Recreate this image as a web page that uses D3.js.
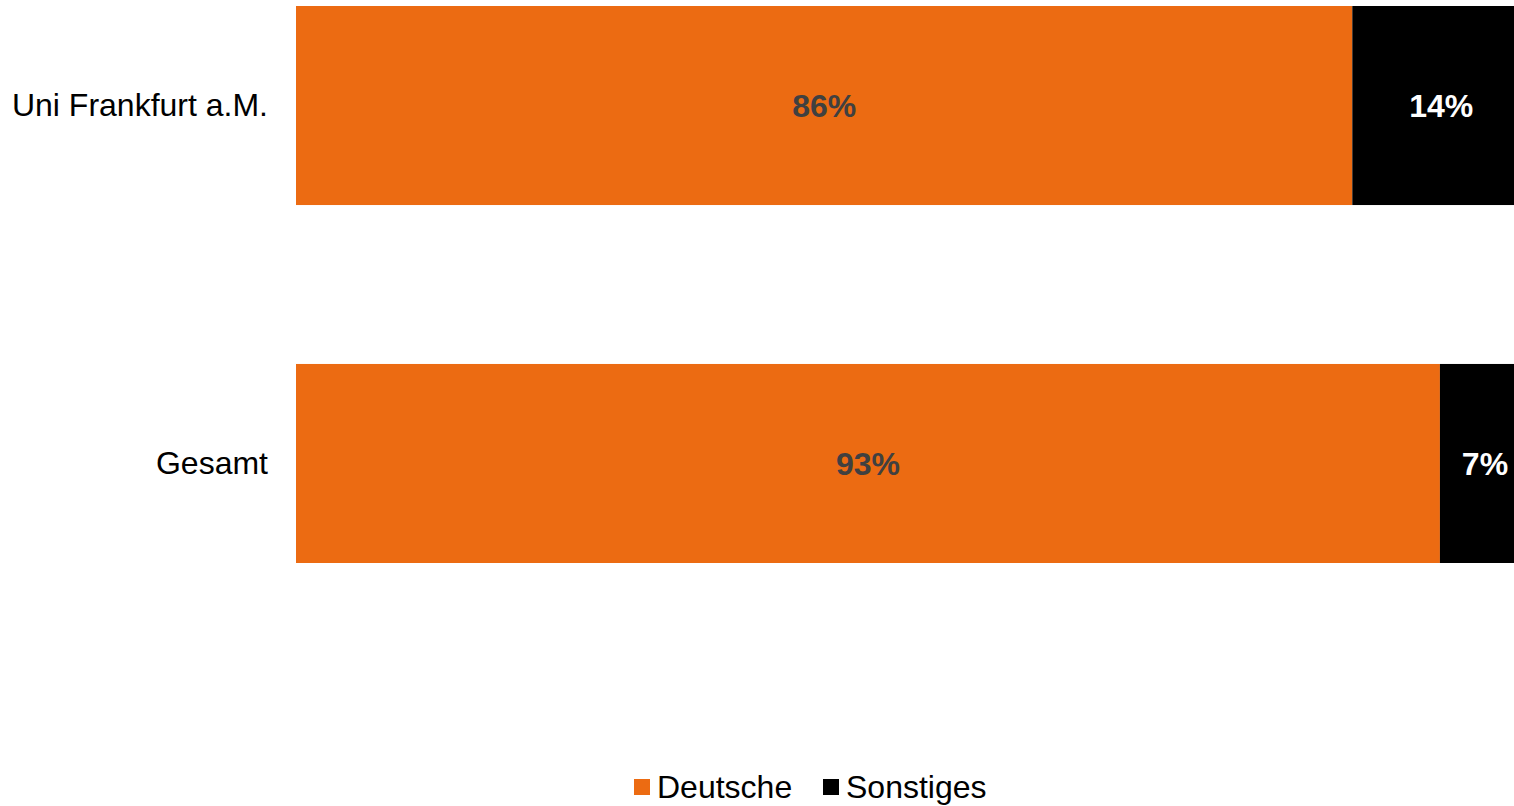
<!DOCTYPE html>
<html>
<head>
<meta charset="utf-8">
<script src="https://cdn.jsdelivr.net/npm/d3@7"></script>
<style>
  html, body { margin: 0; padding: 0; background: #fff; overflow: hidden; }
  svg { display: block; font-family: "Liberation Sans", Arial, sans-serif; }
</style>
</head>
<body>
<div id="chart"></div>
<script>
// DATA
const categories = ["Uni Frankfurt a.M.", "Gesamt"];
const seriesNames = ["Deutsche", "Sonstiges"];
const deutsche = [85.6, 92.7];
const sonstiges = [14.4, 7.3];
const colors = ["#EC6B12", "#000000"];

const W = 1514, H = 806;

const svg = d3.select("#chart").append("svg")
    .attr("width", W).attr("height", H);

// plot area runs slightly past the right edge of the window
const x = d3.scaleLinear().domain([0, 100]).range([296, 1530]);
const y = d3.scaleBand().domain(categories)
    .range([6, 563]).paddingInner(0.444).paddingOuter(0);

const fmt = d => d3.format(".0f")(d) + "%";

// stack the two series
const rows = categories.map((c, i) => ({ cat: c, Deutsche: deutsche[i], Sonstiges: sonstiges[i] }));
const stacked = d3.stack().keys(seriesNames)(rows);
const labelColors = ["#404040", "#ffffff"];

const layers = svg.selectAll(".layer")
    .data(stacked)
    .enter().append("g")
    .attr("class", "layer")
    .attr("fill", (d, i) => colors[i]);

layers.selectAll("rect")
    .data(d => d)
    .enter().append("rect")
    .attr("x", d => x(d[0]))
    .attr("y", d => y(d.data.cat))
    .attr("width", d => x(d[1]) - x(d[0]))
    .attr("height", y.bandwidth());

// value labels
stacked.forEach((layer, li) => {
    svg.selectAll(".lbl" + li)
        .data(layer)
        .enter().append("text")
        .attr("class", "lbl" + li)
        .attr("x", d => (x(d[0]) + x(d[1])) / 2)
        .attr("y", d => y(d.data.cat) + y.bandwidth() / 2)
        .attr("dy", "0.35em")
        .attr("text-anchor", "middle")
        .attr("font-size", "32px")
        .attr("font-weight", "bold")
        .attr("fill", labelColors[li])
        .text(d => fmt(d[1] - d[0]));
});

// category labels (axis without lines)
const yAxis = svg.append("g")
    .attr("transform", "translate(296,0)")
    .call(d3.axisLeft(y).tickSize(0).tickPadding(28));
yAxis.select(".domain").remove();
yAxis.selectAll("text")
    .attr("font-size", "32px")
    .attr("font-family", "Liberation Sans, Arial, sans-serif")
    .attr("fill", "#000");

// LEGEND
const legend = svg.append("g").attr("transform", "translate(634,787)");
const legendX = [0, 189];
seriesNames.forEach((s, i) => {
    const g = legend.append("g").attr("transform", "translate(" + legendX[i] + ",0)");
    g.append("rect").attr("x", 0).attr("y", -8).attr("width", 16).attr("height", 16)
        .attr("fill", colors[i]);
    g.append("text").attr("x", 23).attr("y", 0).attr("dy", "0.35em")
        .attr("font-size", "32px").attr("fill", "#000").text(s);
});
</script>
</body>
</html>
